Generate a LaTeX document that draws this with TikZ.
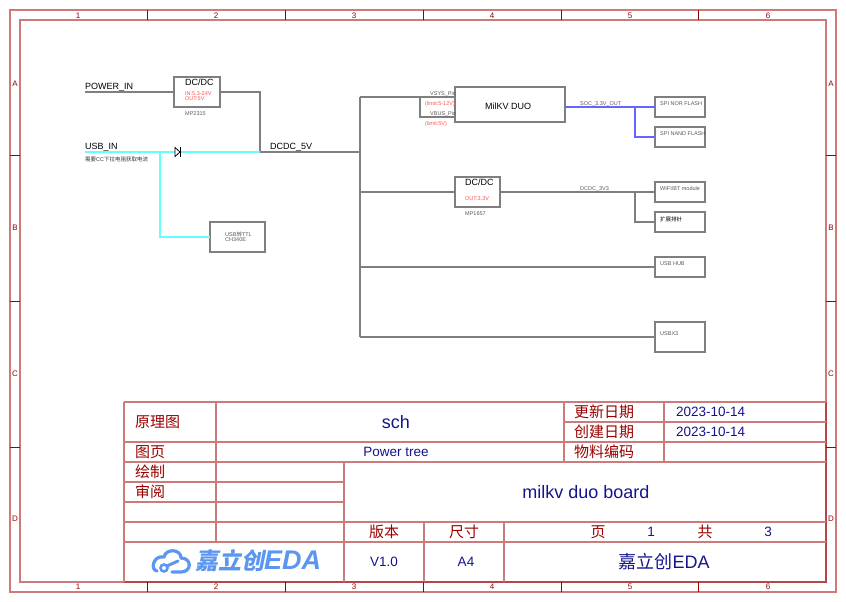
\documentclass[tikz,border=0pt]{standalone}
\usepackage{fontspec}
\setmainfont{Liberation Sans}
\newfontfamily\cjk{Noto Sans CJK SC}
\newfontfamily\logofont[BoldFeatures={FakeSlant=0.2}]{Noto Sans CJK SC}
\usetikzlibrary{positioning}
\definecolor{framered}{HTML}{CC7A7A}
\definecolor{darkframe}{HTML}{B5474B}
\definecolor{labelred}{HTML}{990000}
\definecolor{titlenavy}{HTML}{14148C}
\definecolor{wiregrey}{HTML}{7F7F7F}
\definecolor{usbcyan}{HTML}{66FFFF}
\definecolor{socblue}{HTML}{6666FF}
\definecolor{notered}{HTML}{FF5050}
\definecolor{logoblue}{HTML}{5B96F0}
\newcommand{\fs}[1]{\fontsize{#1}{#1}\selectfont}

\begin{document}
\begin{tikzpicture}[x=1pt, y=-1pt]
	\tikzstyle{block} = [ draw=wiregrey, line width=1.5pt, fill=white, rectangle, inner sep=0pt, outer sep=0pt ];
	\tikzstyle{wire} = [ draw=wiregrey, line width=1.5pt ];
	\tikzstyle{usbwire} = [ draw=usbcyan, line width=1.5pt ];
	\tikzstyle{socwire} = [ draw=socblue, line width=1.5pt ];
	\tikzstyle{netname} = [ anchor=west, inner sep=0pt, font={\fs{9}} ];
	\tikzstyle{tiny} = [ anchor=west, inner sep=0pt, text=black!65, font={\fs{5.5}} ];
	\tikzstyle{note} = [ anchor=west, inner sep=0pt, text=notered, font={\fs{5.5}} ];
	\tikzstyle{grid} = [ line width=1.4pt, draw=framered ];
	\tikzstyle{zone} = [ inner sep=0pt, text=labelred, font={\fs{8}} ];
	\tikzstyle{head} = [ inner sep=0pt, text=labelred, font={\fs{15}\cjk} ];
	\tikzstyle{value} = [ inner sep=0pt, text=titlenavy, font={\fs{13.5}} ];

	\useasboundingbox (0,0) rectangle (846,602);

	% sheet frame
	\draw[grid] (10,10) rectangle (836,592);
	\draw[grid] (20,20) rectangle (826,582);
	\draw[line width=1.4pt, draw=darkframe] (124,582) -- (826,582) -- (826,402);

	\foreach \x in {147,285,423,561,698} {
		\draw[draw=labelred, line width=.7pt] (\x,10) -- (\x,20);
		\draw[draw=labelred, line width=.7pt] (\x,582) -- (\x,592);
	}
	\foreach \y in {155,301,447} {
		\draw[draw=labelred, line width=.7pt] (10,\y) -- (20,\y);
		\draw[draw=labelred, line width=.7pt] (826,\y) -- (836,\y);
	}
	\foreach \x [count=\xi] in {78,216,354,492,630,768} {
		\node[zone] (top\xi) at (\x,15.5) {\xi};
		\node[zone] (bot\xi) at (\x,587) {\xi};
	}
	\foreach \l/\y in {A/84,B/228,C/374,D/519} {
		\node[zone] (left\l) at (15,\y) {\l};
		\node[zone] (right\l) at (831,\y) {\l};
	}

	% title block
	\draw[grid] (124,402) -- (826,402);
	\draw[grid] (124,402) -- (124,582);
	\draw[grid] (564,422) -- (826,422);
	\draw[grid] (124,442) -- (826,442);
	\draw[grid] (124,462) -- (826,462);
	\draw[grid] (124,482) -- (344,482);
	\draw[grid] (124,502) -- (344,502);
	\draw[grid] (124,522) -- (826,522);
	\draw[grid] (124,542) -- (826,542);
	\draw[grid] (216,402) -- (216,542);
	\draw[grid] (344,462) -- (344,582);
	\draw[grid] (424,522) -- (424,582);
	\draw[grid] (504,522) -- (504,582);
	\draw[grid] (564,402) -- (564,462);
	\draw[grid] (664,402) -- (664,462);

	\node[head, anchor=west] (kind) at (135,422) {原理图};
	\node[head, anchor=west] (page) at (135,452) {图页};
	\node[head, anchor=west] (drawn) at (135,472) {绘制};
	\node[head, anchor=west] (check) at (135,492) {审阅};
	\node[head] (ver) at (384,532) {版本};
	\node[head] (size) at (464,532) {尺寸};
	\node[head, anchor=west] (upd) at (574,412) {更新日期};
	\node[head, anchor=west] (new) at (574,432) {创建日期};
	\node[head, anchor=west] (code) at (574,452) {物料编码};
	\node[head] (pg) at (598,532) {页};
	\node[head] (tot) at (705,532) {共};

	\node[value, font={\fs{18}}] (sch) at (396,422) {sch};
	\node[value] (tree) at (396,452) {Power tree};
	\node[value, font={\fs{18}}] (board) at (586,492) {milkv duo board};
	\node[value] (vnum) at (384,562) {V1.0};
	\node[value] (anum) at (466,562) {A4};
	\node[value, anchor=west] (updv) at (676,412) {2023-10-14};
	\node[value, anchor=west] (newv) at (676,432) {2023-10-14};
	\node[value] (pgv) at (651,532) {1};
	\node[value] (totv) at (768,532) {3};
	\node[value, font={\fs{18}}] (org) at (664,562) {{\cjk 嘉立创}EDA};

	% logo
	\draw[logoblue, line width=3.2pt, line cap=round, line join=round]
		(172,572) -- (181,572) .. controls (192,572) and (192,558) .. (181,558)
		.. controls (181,549) and (166,548) .. (164,557)
		.. controls (153,555) and (150,570) .. (157,571);
	\draw[logoblue, line width=2.6pt] (164,568) circle (3.5);
	\draw[logoblue, line width=3pt, line cap=round] (167,566) -- (178,561);
	\node[inner sep=0pt, anchor=west, text=logoblue, font={\fs{23}\bfseries}] (logo) at (195,561) {{\logofont 嘉立创}{\fs{27}\itshape EDA}};

	% power tree blocks
	\node[block, minimum width=46pt, minimum height=30pt] (dcin) at (197,92) {};
	\node[block, minimum width=55pt, minimum height=30pt] (usbttl) at (237.5,237) {};
	\node[block, minimum width=110pt, minimum height=35pt] (duo) at (510,104.5) {};
	\node[block, minimum width=45pt, minimum height=30pt] (dc3v) at (477.5,192) {};
	\node[block, minimum width=50pt, minimum height=20pt] (nor) at (680,107) {};
	\node[block, minimum width=50pt, minimum height=20pt] (nand) at (680,137) {};
	\node[block, minimum width=50pt, minimum height=20pt] (wifi) at (680,192) {};
	\node[block, minimum width=50pt, minimum height=20pt] (pins) at (680,222) {};
	\node[block, minimum width=50pt, minimum height=20pt] (hub) at (680,267) {};
	\node[block, minimum width=50pt, minimum height=30pt] (usbx) at (680,337) {};

	\coordinate (pwr) at (85,92);
	\coordinate (usb) at (85,152);
	\coordinate (join) at (260,152);
	\coordinate (tap) at (160,152);
	\coordinate (bus) at (360,152);
	\coordinate (bustop) at (360,97);
	\coordinate (busdc) at (360,192);
	\coordinate (bushub) at (360,267);
	\coordinate (busend) at (360,337);
	\coordinate (vsys) at (455,97);
	\coordinate (vbus) at (455,117);
	\coordinate (pin) at (420,97);
	\coordinate (socsplit) at (635,107);
	\coordinate (dcsplit) at (635,192);

	% wires
	\draw[wire] (pwr) -- (dcin.west);
	\draw[wire] (dcin.east) -| (join);
	\draw[wire] (join) -- (bus);
	\draw[wire] (bustop) -- (busend);
	\draw[wire] (bustop) -- (vsys);
	\draw[wire] (pin) |- (vbus);
	\draw[wire] (busdc) -- (dc3v.west);
	\draw[wire] (dc3v.east) -- (wifi.west);
	\draw[wire] (dcsplit) |- (pins.west);
	\draw[wire] (bushub) -- (hub.west);
	\draw[wire] (busend) -- (usbx.west);
	\draw[usbwire] (usb) -- (join);
	\draw[usbwire] (tap) |- (usbttl.west);
	\draw[socwire] (duo.east |- socsplit) -- (nor.west);
	\draw[socwire] (socsplit) |- (nand.west);

	% diode
	\draw[black, line width=.8pt, fill=white] (175,147.5) -- (180,152) -- (175,156.5) -- cycle;
	\draw[black, line width=.8pt] (180.5,147) -- (180.5,157);

	% labels
	\node[netname] (lpwr) at (85,87) {POWER\_IN};
	\node[netname] (lusb) at (85,147) {USB\_IN};
	\node[netname] (l5v) at (270,147) {DCDC\_5V};
	\node[netname] (ldc1) at (185,82) {DC/DC};
	\node[netname] (ldc2) at (465,182) {DC/DC};
	\node[netname] (lduo) at (485,106.5) {MilKV DUO};
	\node[note] (in1) at (185,94) {IN:5.3-24V};
	\node[note] (out1) at (185,99) {OUT:5V};
	\node[note] (out2) at (465,199) {OUT:3.3V};
	\node[note] (lim1) at (425,104) {(limit:5-12V)};
	\node[note] (lim2) at (425,124) {(limit:5V)};
	\node[tiny] (mp1) at (185,114) {MP2315};
	\node[tiny] (mp2) at (465,214) {MP1657};
	\node[tiny, text=black!80] (cc) at (85,159) {{\cjk 需要}CC{\cjk 下拉电阻获取电流}};
	\node[tiny] (ttl1) at (225,234) {USB{\cjk 转}TTL};
	\node[tiny] (ttl2) at (225,240) {CH340E};
	\node[tiny] (lvsys) at (430,94) {VSYS\_Pin};
	\node[tiny] (lvbus) at (430,114) {VBUS\_Pin};
	\node[tiny] (lsoc) at (580,104) {SOC\_3.3V\_OUT};
	\node[tiny] (l3v3) at (580,189) {DCDC\_3V3};
	\node[tiny] (tnor) at (660,104) {SPI NOR FLASH};
	\node[tiny] (tnand) at (660,134) {SPI NAND FLASH};
	\node[tiny] (twifi) at (660,189) {WIFI/BT module};
	\node[tiny, text=black] (tpins) at (660,219) {\cjk 扩展排针};
	\node[tiny] (thub) at (660,264) {USB HUB};
	\node[tiny] (tusbx) at (660,334) {USBX3};

\end{tikzpicture}
\end{document}
